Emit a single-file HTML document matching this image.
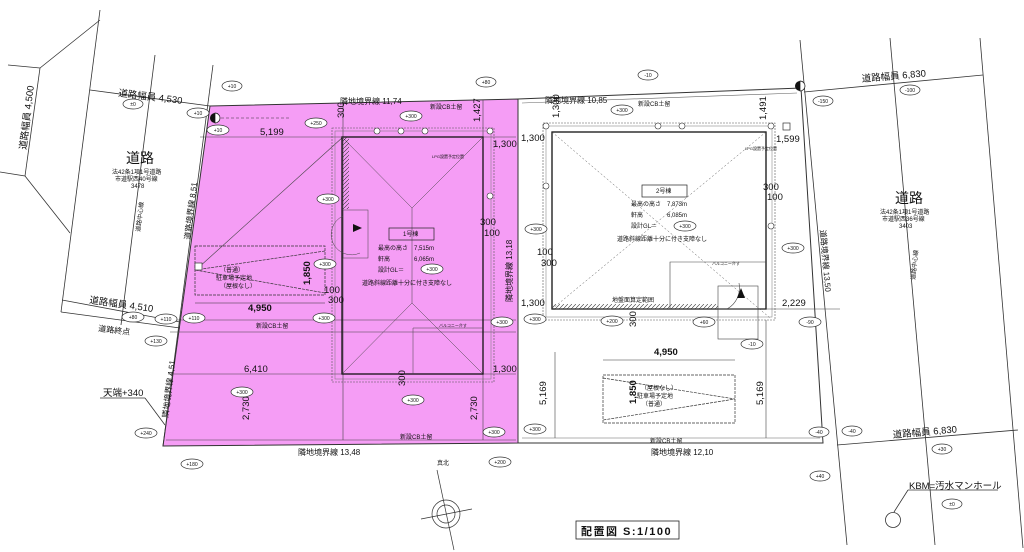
<!DOCTYPE html>
<html><head><meta charset="utf-8">
<style>
html,body{margin:0;padding:0;background:#fff;width:1024px;height:552px;overflow:hidden}
svg{display:block}
text{font-family:"Liberation Sans","Noto Sans CJK JP",sans-serif;fill:#111}
.s{font-size:6px}
.m{font-size:8px}
.n{font-size:9.5px}
.e ellipse{fill:#fff;stroke:#333;stroke-width:0.7}
.e text{font-size:5px;text-anchor:middle}
</style></head><body>
<svg width="1024" height="552" viewBox="0 0 1024 552" xmlns="http://www.w3.org/2000/svg">
<defs>
<pattern id="h" width="4" height="4" patternUnits="userSpaceOnUse"><path d="M0 4L4 0" stroke="#333" stroke-width="0.6"/></pattern>
</defs>
<polygon points="210,106 518,99 518,443 163,446" fill="#f59df5" stroke="#333" stroke-width="1"/>
<polygon points="518,99 801,88 823,443 518,443" fill="#fff" stroke="#333" stroke-width="1"/>
<line x1="522" y1="103" x2="797" y2="93" stroke="#666" stroke-width="0.6"/>
<line x1="522" y1="438" x2="820" y2="438" stroke="#666" stroke-width="0.6"/>
<line x1="166" y1="440" x2="516" y2="440" stroke="#444" stroke-width="0.6"/>
<g stroke="#333" stroke-width="0.8" fill="none">
<polyline points="8,65 40,68 100,20"/>
<polyline points="0,172 25,176 70,233"/>
<line x1="40" y1="68" x2="25" y2="176"/>
<line x1="100" y1="10" x2="61" y2="312"/>
<line x1="155" y1="55" x2="121" y2="325"/>
<line x1="213" y1="65" x2="163" y2="446"/>
<line x1="90" y1="90" x2="210" y2="106"/>
<line x1="62" y1="300" x2="180" y2="322"/>
<line x1="61" y1="312" x2="180" y2="328"/>
<line x1="100" y1="398" x2="145" y2="398"/>
<line x1="145" y1="398" x2="165" y2="425"/>
<line x1="800" y1="40" x2="847" y2="545"/>
<line x1="890" y1="38" x2="935" y2="545"/>
<line x1="980" y1="38" x2="1023" y2="548"/>
<line x1="804" y1="92" x2="983" y2="75"/>
<line x1="837" y1="445" x2="1018" y2="430"/>
<line x1="908" y1="490" x2="998" y2="490"/>
<line x1="908" y1="490" x2="894" y2="512"/>
<circle cx="893" cy="520" r="7.5"/>
</g>
<g stroke="#444" stroke-width="0.6" fill="none">
<line x1="172" y1="320" x2="516" y2="320"/>
<line x1="170" y1="332" x2="516" y2="332"/>
<line x1="168" y1="374" x2="516" y2="374"/>
<line x1="200" y1="137" x2="516" y2="137"/>
<line x1="343" y1="102" x2="343" y2="440"/>
<line x1="483" y1="100" x2="483" y2="440"/>
<line x1="343" y1="137" x2="198" y2="268"/>
</g>
<rect x="332" y="128" width="162" height="254" fill="none" stroke="#555" stroke-width="0.6" stroke-dasharray="2,1"/>
<rect x="335" y="131" width="156" height="248" fill="none" stroke="#777" stroke-width="0.5"/>
<rect x="342" y="137" width="141" height="237" fill="none" stroke="#111" stroke-width="1.3"/>
<g stroke="#444" stroke-width="0.5" fill="none">
<polyline points="342,137 412,208 483,137"/><line x1="412" y1="208" x2="412" y2="303"/>
<polyline points="342,374 412,303 483,374"/>
<polyline points="413,328 413,374"/><line x1="413" y1="328" x2="483" y2="328"/>
<path d="M343 216 a20 20 0 0 0 17 37"/>
<rect x="343" y="210" width="25" height="48"/>
</g>
<rect x="342" y="137" width="7" height="72" fill="url(#h)"/>
<polygon points="353,224 362,228 353,232" fill="#111"/>
<g fill="#fff" stroke="#333" stroke-width="0.6">
<circle cx="377" cy="131" r="3"/><circle cx="401" cy="131" r="3"/><circle cx="425" cy="131" r="3"/><circle cx="490" cy="131" r="3"/><circle cx="490" cy="196" r="3"/>
</g>
<rect x="389" y="228" width="45" height="12" fill="none" stroke="#222" stroke-width="0.7"/>
<g stroke="#333" stroke-width="0.7" fill="none" stroke-dasharray="3,1">
<rect x="195" y="246" width="130" height="49"/>
<polyline points="325,251 195,270 325,293"/>
</g>
<line x1="195" y1="303" x2="325" y2="303" stroke="#333" stroke-width="0.6"/>
<rect x="195" y="263" width="7" height="7" fill="#fff" stroke="#333" stroke-width="0.7"/>
<rect x="543" y="123" width="232" height="197" fill="none" stroke="#555" stroke-width="0.6" stroke-dasharray="2,1"/>
<rect x="546" y="126" width="226" height="191" fill="none" stroke="#777" stroke-width="0.5"/>
<rect x="552" y="132" width="214" height="177" fill="none" stroke="#111" stroke-width="1.3"/>
<g stroke="#555" stroke-width="0.5" fill="none" stroke-dasharray="2,2">
<line x1="552" y1="132" x2="770" y2="318"/><line x1="766" y1="132" x2="552" y2="309"/>
</g>
<g stroke="#444" stroke-width="0.6" fill="none">
<polyline points="670,309 670,262 766,262"/>
<path d="M739 283 a24 24 0 0 1 -12 26"/>
<rect x="718" y="286" width="40" height="23"/>
<rect x="718" y="309" width="40" height="30"/>
<line x1="555" y1="309" x2="840" y2="309"/>
<line x1="555" y1="352" x2="555" y2="438"/><line x1="766" y1="320" x2="766" y2="438"/>
</g>
<rect x="552" y="304" width="166" height="5" fill="url(#h)"/>
<polygon points="737,298 741,288 745,298" fill="#111"/>
<rect x="642" y="185" width="45" height="12" fill="none" stroke="#222" stroke-width="0.7"/>
<g fill="#fff" stroke="#333" stroke-width="0.6">
<circle cx="546" cy="126" r="3"/><circle cx="658" cy="126" r="3"/><circle cx="682" cy="126" r="3"/><circle cx="771" cy="126" r="3"/><circle cx="546" cy="186" r="3"/><circle cx="771" cy="226" r="3"/>
</g>
<rect x="783" y="123" width="7" height="7" fill="#fff" stroke="#333" stroke-width="0.7"/>
<g stroke="#333" stroke-width="0.7" fill="none" stroke-dasharray="3,1">
<rect x="603" y="375" width="132" height="48"/>
<polyline points="603,378 735,399 603,420"/>
</g>
<line x1="603" y1="360" x2="735" y2="360" stroke="#333" stroke-width="0.6"/>
<circle cx="215" cy="118" r="5" fill="#111"/><path d="M215 113 a5 5 0 0 1 0 10z" fill="#fff" stroke="#111" stroke-width="0.7"/>
<line x1="221" y1="118" x2="290" y2="118" stroke="#333" stroke-width="0.6" stroke-dasharray="3,2"/>
<circle cx="800" cy="86" r="5" fill="#111"/><path d="M800 81 a5 5 0 0 1 0 10z" fill="#fff" stroke="#111" stroke-width="0.7"/>
<g stroke="#333" stroke-width="0.7" fill="none">
<circle cx="446" cy="514" r="14"/><circle cx="446" cy="514" r="9"/>
<line x1="437" y1="470" x2="454" y2="550"/><line x1="421" y1="519" x2="472" y2="509"/>
</g>
<text x="437" y="465" class="s">真北</text>
<rect x="576" y="521" width="103" height="18" fill="#fff" stroke="#222" stroke-width="0.8"/>
<text x="581" y="535" style="font-size:11px;font-weight:bold;letter-spacing:1.5px">配置図 S:1/100</text>
<text x="340" y="104" class="m">隣地境界線 11,74</text>
<text x="545" y="103" class="m">隣地境界線 10,85</text>
<text x="298" y="455" class="m">隣地境界線 13,48</text>
<text x="651" y="455" class="m">隣地境界線 12,10</text>
<text x="118" y="96" class="n" transform="rotate(7 118 96)">道路幅員 4,530</text>
<text x="89" y="303" class="n" transform="rotate(8 89 303)">道路幅員 4,510</text>
<text x="98" y="331" class="m" transform="rotate(7 98 331)">道路終点</text>
<text x="862" y="82" class="n" transform="rotate(-5 862 82)">道路幅員 6,830</text>
<text x="893" y="438" class="n" transform="rotate(-5 893 438)">道路幅員 6,830</text>
<text x="26" y="150" class="n" transform="rotate(-83 26 150)">道路幅員 4,500</text>
<text x="126" y="163" style="font-size:14px">道路</text>
<text x="112" y="174" class="s">法42条1項1号道路</text>
<text x="115" y="181" class="s">市道駅西40号線</text>
<text x="131" y="188" class="s">3478</text>
<text x="895" y="203" style="font-size:14px">道路</text>
<text x="880" y="214" class="s">法42条1項1号道路</text>
<text x="882" y="221" class="s">市道駅西36号線</text>
<text x="899" y="228" class="s">3403</text>
<text x="140" y="232" class="s" transform="rotate(-83 140 232)">道路中心線</text>
<text x="915" y="280" class="s" transform="rotate(-84 915 280)">道路中心線</text>
<text x="190" y="240" class="m" transform="rotate(-83 190 240)">道路境界線 8,51</text>
<text x="168" y="418" class="m" transform="rotate(-83 168 418)">隣地境界線 4,51</text>
<text x="820" y="230" class="m" transform="rotate(85 820 230)">道路境界線 13,50</text>
<text x="512" y="302" class="m" transform="rotate(-90 512 302)">隣地境界線 13,18</text>
<text x="103" y="396" class="n">天端+340</text>
<text x="909" y="489" class="n">KBM=汚水マンホール</text>
<text x="260" y="135" class="n">5,199</text>
<text x="248" y="311" class="n" style="font-weight:bold">4,950</text>
<text x="244" y="372" class="n">6,410</text>
<text x="654" y="355" class="n" style="font-weight:bold">4,950</text>
<text x="310" y="285" class="n" style="font-weight:bold" transform="rotate(-90 310 285)">1,850</text>
<text x="636" y="404" class="n" style="font-weight:bold" transform="rotate(-90 636 404)">1,850</text>
<text x="493" y="147" class="n">1,300</text><text x="493" y="372" class="n">1,300</text>
<text x="521" y="141" class="n">1,300</text><text x="521" y="306" class="n">1,300</text>
<text x="776" y="142" class="n">1,599</text><text x="782" y="306" class="n">2,229</text>
<text x="480" y="225" class="n">300</text><text x="484" y="236" class="n">100</text>
<text x="763" y="190" class="n">300</text><text x="767" y="200" class="n">100</text>
<text x="537" y="255" class="n">100</text><text x="541" y="266" class="n">300</text>
<text x="324" y="293" class="n">100</text><text x="328" y="303" class="n">300</text>
<text x="249" y="420" class="n" transform="rotate(-90 249 420)">2,730</text>
<text x="477" y="420" class="n" transform="rotate(-90 477 420)">2,730</text>
<text x="546" y="405" class="n" transform="rotate(-90 546 405)">5,169</text>
<text x="763" y="405" class="n" transform="rotate(-90 763 405)">5,169</text>
<text x="344" y="118" class="n" transform="rotate(-90 344 118)">300</text>
<text x="480" y="122" class="n" transform="rotate(-90 480 122)">1,427</text>
<text x="559" y="118" class="n" transform="rotate(-90 559 118)">1,300</text>
<text x="766" y="120" class="n" transform="rotate(-90 766 120)">1,491</text>
<text x="405" y="386" class="n" transform="rotate(-90 405 386)">300</text>
<text x="636" y="327" class="n" transform="rotate(-90 636 327)">300</text>
<text x="403" y="236" class="s">1号棟</text>
<text x="656" y="193" class="s">2号棟</text>
<text x="378" y="250" class="s">最高の高さ　7,515m</text>
<text x="378" y="261" class="s">軒高　　　　6,065m</text>
<text x="378" y="272" class="s">設計GL＝</text>
<text x="362" y="285" class="s">道路斜線距離十分に付き支障なし</text>
<text x="631" y="206" class="s">最高の高さ　7,873m</text>
<text x="631" y="217" class="s">軒高　　　　6,085m</text>
<text x="631" y="228" class="s">設計GL＝</text>
<text x="617" y="241" class="s">道路斜線距離十分に付き支障なし</text>
<text x="612" y="302" class="s">地盤面算定範囲</text>
<text x="256" y="328" class="s">新設CB土留</text>
<text x="430" y="109" class="s">新設CB土留</text>
<text x="638" y="106" class="s">新設CB土留</text>
<text x="400" y="439" class="s">新設CB土留</text>
<text x="650" y="443" class="s">新設CB土留</text>
<text x="220" y="272" class="s">（普通）</text><text x="216" y="280" class="s">駐車場予定地</text><text x="220" y="288" class="s">（屋根なし）</text>
<text x="641" y="390" class="s">（屋根なし）</text><text x="637" y="398" class="s">駐車場予定地</text><text x="642" y="406" class="s">（普通）</text>
<text x="432" y="158" style="font-size:4px">LPG設置予定位置</text>
<text x="745" y="150" style="font-size:4px">LPG設置予定位置</text>
<text x="439" y="327" style="font-size:4px">バルコニー介す</text>
<text x="712" y="265" style="font-size:4px">バルコニー介す</text>
<g class="e">
<g transform="translate(232,86)"><ellipse rx="10" ry="5"/><text y="2">+10</text></g>
<g transform="translate(486,82)"><ellipse rx="10" ry="5"/><text y="2">+80</text></g>
<g transform="translate(648,75)"><ellipse rx="10" ry="5"/><text y="2">-10</text></g>
<g transform="translate(133,104)"><ellipse rx="10" ry="5"/><text y="2">±0</text></g>
<g transform="translate(198,113)"><ellipse rx="11" ry="5"/><text y="2">+10</text></g>
<g transform="translate(218,130)"><ellipse rx="11" ry="5"/><text y="2">+10</text></g>
<g transform="translate(316,123)"><ellipse rx="11" ry="5"/><text y="2">+250</text></g>
<g transform="translate(411,116)"><ellipse rx="11" ry="5"/><text y="2">+300</text></g>
<g transform="translate(622,110)"><ellipse rx="11" ry="5"/><text y="2">+300</text></g>
<g transform="translate(823,101)"><ellipse rx="10" ry="5"/><text y="2">-150</text></g>
<g transform="translate(910,90)"><ellipse rx="10" ry="5"/><text y="2">-100</text></g>
<g transform="translate(328,199)"><ellipse rx="11" ry="5"/><text y="2">+300</text></g>
<g transform="translate(325,264)"><ellipse rx="11" ry="5"/><text y="2">+300</text></g>
<g transform="translate(432,269)"><ellipse rx="11" ry="5"/><text y="2">+300</text></g>
<g transform="translate(685,226)"><ellipse rx="11" ry="5"/><text y="2">+300</text></g>
<g transform="translate(536,229)"><ellipse rx="11" ry="5"/><text y="2">+300</text></g>
<g transform="translate(793,248)"><ellipse rx="11" ry="5"/><text y="2">+300</text></g>
<g transform="translate(133,317)"><ellipse rx="11" ry="5"/><text y="2">+80</text></g>
<g transform="translate(166,319)"><ellipse rx="11" ry="5"/><text y="2">+110</text></g>
<g transform="translate(194,318)"><ellipse rx="11" ry="5"/><text y="2">+110</text></g>
<g transform="translate(324,318)"><ellipse rx="11" ry="5"/><text y="2">+300</text></g>
<g transform="translate(502,322)"><ellipse rx="11" ry="5"/><text y="2">+300</text></g>
<g transform="translate(535,319)"><ellipse rx="11" ry="5"/><text y="2">+300</text></g>
<g transform="translate(612,321)"><ellipse rx="11" ry="5"/><text y="2">+200</text></g>
<g transform="translate(704,322)"><ellipse rx="11" ry="5"/><text y="2">+60</text></g>
<g transform="translate(810,322)"><ellipse rx="11" ry="5"/><text y="2">-90</text></g>
<g transform="translate(752,344)"><ellipse rx="11" ry="5"/><text y="2">-10</text></g>
<g transform="translate(156,341)"><ellipse rx="11" ry="5"/><text y="2">+130</text></g>
<g transform="translate(242,392)"><ellipse rx="11" ry="5"/><text y="2">+300</text></g>
<g transform="translate(413,400)"><ellipse rx="11" ry="5"/><text y="2">+300</text></g>
<g transform="translate(535,429)"><ellipse rx="11" ry="5"/><text y="2">+300</text></g>
<g transform="translate(494,432)"><ellipse rx="11" ry="5"/><text y="2">+300</text></g>
<g transform="translate(146,433)"><ellipse rx="11" ry="5"/><text y="2">+240</text></g>
<g transform="translate(192,464)"><ellipse rx="11" ry="5"/><text y="2">+180</text></g>
<g transform="translate(500,462)"><ellipse rx="11" ry="5"/><text y="2">+200</text></g>
<g transform="translate(819,432)"><ellipse rx="10" ry="5"/><text y="2">-40</text></g>
<g transform="translate(852,431)"><ellipse rx="10" ry="5"/><text y="2">-40</text></g>
<g transform="translate(942,449)"><ellipse rx="10" ry="5"/><text y="2">+30</text></g>
<g transform="translate(820,476)"><ellipse rx="10" ry="5"/><text y="2">+40</text></g>
<g transform="translate(952,504)"><ellipse rx="10" ry="5"/><text y="2">±0</text></g>
</g>
</svg>
</body></html>
